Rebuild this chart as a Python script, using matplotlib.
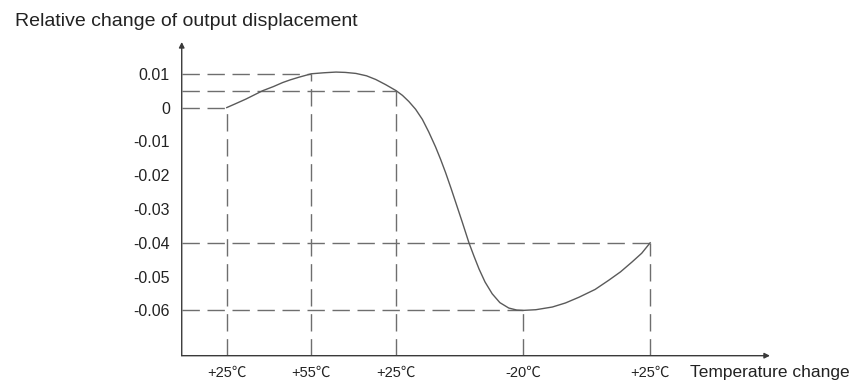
import matplotlib
matplotlib.use("Agg")
import matplotlib.pyplot as plt

plt.rcParams["font.family"] = ["Liberation Sans", "Noto Sans CJK SC", "DejaVu Sans"]
plt.rcParams["lines.scale_dashes"] = False

DARK, LINE, DASH = "#3a3a3a", "#5a5a5a", "#6e6e6e"

# temperature steps along the x axis (positions in arbitrary step units)
temp_labels = ["+25℃", "+55℃", "+25℃", "-20℃", "+25℃"]
temp_pos = [1, 3, 5, 8, 11]
# relative change reached at each step
key_values = [0.0, 0.01, 0.005, -0.06, -0.04]

ytick_vals = [0.01, 0.0, -0.01, -0.02, -0.03, -0.04, -0.05, -0.06]
ytick_labels = ["0.01", "0", "-0.01", "-0.02", "-0.03", "-0.04", "-0.05", "-0.06"]

# curve
curve_x = [1.0, 1.2, 1.45, 1.85, 2.1, 2.32, 2.5, 2.71, 3.0, 3.3, 3.58, 3.8,
           4.05, 4.3, 4.52, 4.75, 5.0, 5.15, 5.3, 5.46, 5.62, 5.77, 5.93,
           6.05, 6.17, 6.3, 6.43, 6.56, 6.72, 6.84, 6.96, 7.1, 7.27, 7.45,
           7.66, 7.85, 8.0, 8.3, 8.69, 9.0, 9.32, 9.7, 10.02, 10.3, 10.57,
           10.8, 11.0]
curve_y = [0.0, 0.0011, 0.0025, 0.005, 0.0062, 0.0074, 0.0082, 0.009, 0.01,
           0.0103, 0.0105, 0.0104, 0.0101, 0.0094, 0.0083, 0.0068, 0.005,
           0.0036, 0.0018, -0.0005, -0.0035, -0.0072, -0.0116, -0.0153,
           -0.0193, -0.024, -0.0289, -0.0338, -0.04, -0.044, -0.0478,
           -0.0516, -0.0551, -0.0577, -0.0593, -0.0599, -0.06, -0.0598,
           -0.059, -0.0578, -0.0561, -0.0538, -0.0511, -0.0486, -0.0457,
           -0.0431, -0.04]

fig = plt.figure(figsize=(8.58, 3.87), dpi=100)
ax = fig.add_axes([0.2118, 0.0809, 0.6856, 0.8106])
XL, XR, YB, YT = -0.064, 13.83, -0.0734, 0.0194
ax.set_xlim(XL, XR)
ax.set_ylim(YB, YT)

dash = (0, (12.5, 5.5))
ax.hlines(key_values, XL, temp_pos, colors=DASH, lw=1.0, linestyles=[dash])
ax.vlines(temp_pos, YB, key_values, colors=DASH, lw=1.0, linestyles=[dash])
ax.plot(curve_x, curve_y, color=LINE, lw=1.0, solid_joinstyle="round")

for s in ax.spines.values():
    s.set_visible(False)
ax.annotate("", xy=(0, 1), xytext=(0, 0), xycoords="axes fraction",
            arrowprops=dict(arrowstyle="-|>", color=DARK, lw=1.0,
                            mutation_scale=8, shrinkA=0, shrinkB=0))
ax.annotate("", xy=(1, 0), xytext=(0, 0), xycoords="axes fraction",
            arrowprops=dict(arrowstyle="-|>", color=DARK, lw=1.0,
                            mutation_scale=8, shrinkA=0, shrinkB=0))

ax.set_yticks(ytick_vals)
ax.set_yticklabels(ytick_labels)
ax.set_xticks(temp_pos)
ax.set_xticklabels(temp_labels)
ax.tick_params(axis="y", length=0, pad=8.5, labelsize=11.5, labelcolor="#222222")
ax.tick_params(axis="x", length=0, pad=7, labelsize=10.5, labelcolor="#222222")

fig.text(15 / 858, 1 - 26 / 387, "Relative change of output displacement",
         fontsize=14, color="#222222", ha="left", va="baseline")
fig.text(690 / 858, 1 - 372 / 387, "Temperature change",
         fontsize=12.5, color="#222222", ha="left", va="center")

fig.savefig("out.png", dpi=100)
